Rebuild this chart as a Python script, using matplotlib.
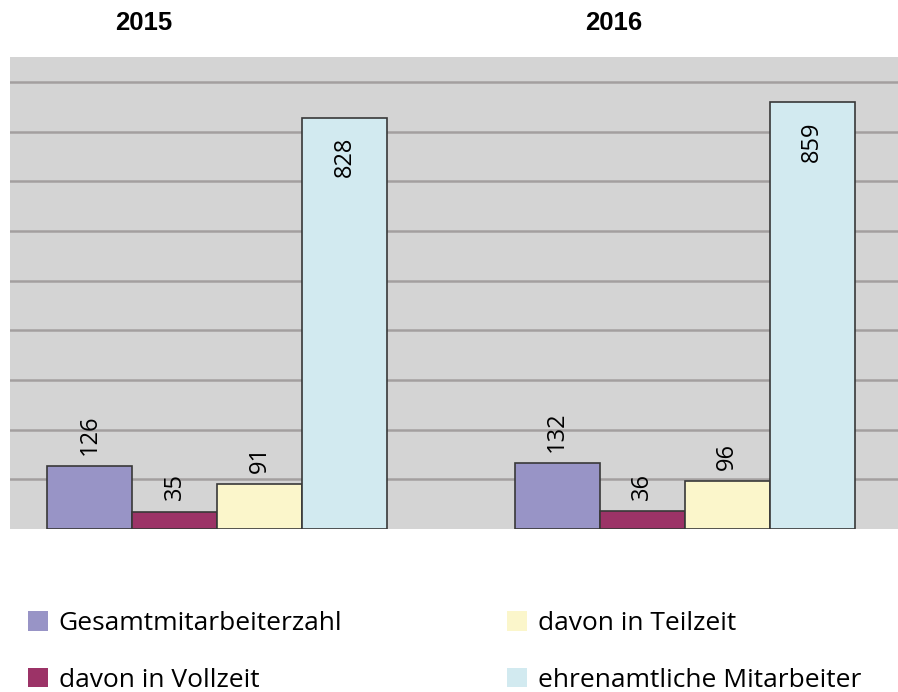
import numpy as np
import matplotlib.pyplot as plt
from matplotlib import font_manager
from matplotlib.patches import Patch

years = ['2015', '2016']
series = ['Gesamtmitarbeiterzahl', 'davon in Vollzeit', 'davon in Teilzeit', 'ehrenamtliche Mitarbeiter']
values = {
    'Gesamtmitarbeiterzahl': [126, 132],
    'davon in Vollzeit': [35, 36],
    'davon in Teilzeit': [91, 96],
    'ehrenamtliche Mitarbeiter': [828, 859],
}
colors = ['#9894c6', '#9c3367', '#fbf6cb', '#d2eaf0']

installed = {f.name for f in font_manager.fontManager.ttflist}
narrow = 'Liberation Sans Narrow' if 'Liberation Sans Narrow' in installed else 'Open Sans'

fig = plt.figure(figsize=(8.98, 6.92), dpi=100)
ax = fig.add_axes([10 / 898, 1 - 529 / 692, 1 - 10 / 898, (529 - 57) / 692])
ax.set_facecolor('#d4d4d4')

width = 1.0
group_x = np.array([0, 5.5])
for i, name in enumerate(series):
    x = group_x + i * width
    bars = ax.bar(x, values[name], width, color=colors[i], edgecolor='#383838',
                  linewidth=1.2, zorder=3)
    for b, v in zip(bars, values[name]):
        cx = b.get_x() + b.get_width() / 2
        if v > 500:
            ax.annotate(str(v), (cx, v), xytext=(0, -14), textcoords='offset points',
                        rotation=90, ha='center', va='top', fontsize=17, family=narrow)
        else:
            ax.annotate(str(v), (cx, v), xytext=(0, 8), textcoords='offset points',
                        rotation=90, ha='center', va='bottom', fontsize=17, family=narrow)

ax.set_xlim(-0.935, 9.51)
ax.set_ylim(0, 950)
ax.set_yticks(np.arange(100, 901, 100))
ax.yaxis.grid(True, color='#a39f9f', linewidth=1.8, zorder=0)
ax.set_axisbelow(True)
ax.tick_params(left=False, bottom=False, labelleft=False, labelbottom=False)
for s in ax.spines.values():
    s.set_visible(False)

for yr, px in zip(years, [143.5, 614]):
    fig.text(px / 898, 1 - 23 / 692, yr, ha='center', va='center', fontsize=18.5,
             fontweight='bold', family='Liberation Sans')

handles = [Patch(facecolor=c, edgecolor='none') for c in colors]
fig.legend(handles, series, loc='upper left', bbox_to_anchor=(28 / 898, 1 - 611 / 692),
           ncol=2, frameon=False, borderpad=0, borderaxespad=0,
           handlelength=0.76, handleheight=0.76, handletextpad=0.4,
           labelspacing=1.2, columnspacing=6.25,
           prop={'family': 'Open Sans', 'size': 19})

fig.savefig('out.png', dpi=100)
